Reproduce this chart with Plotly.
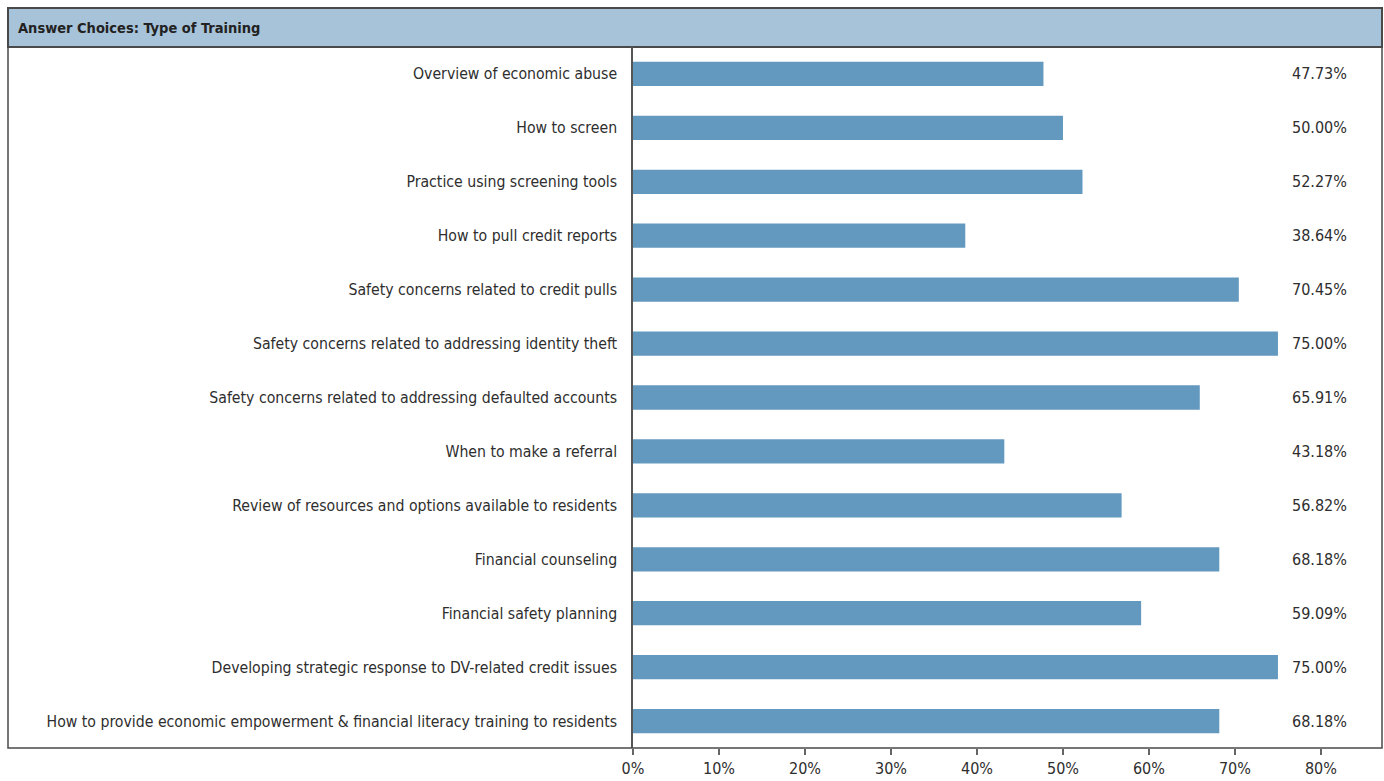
import plotly.graph_objects as go

categories = [
    "Overview of economic abuse",
    "How to screen",
    "Practice using screening tools",
    "How to pull credit reports",
    "Safety concerns related to credit pulls",
    "Safety concerns related to addressing identity theft",
    "Safety concerns related to addressing defaulted accounts",
    "When to make a referral",
    "Review of resources and options available to residents",
    "Financial counseling",
    "Financial safety planning",
    "Developing strategic response to DV-related credit issues",
    "How to provide economic empowerment & financial literacy training to residents",
]
values = [47.73, 50.00, 52.27, 38.64, 70.45, 75.00, 65.91, 43.18, 56.82, 68.18, 59.09, 75.00, 68.18]
tick_vals = [0, 10, 20, 30, 40, 50, 60, 70, 80]
tick_text = ["0%", "10%", "20%", "30%", "40%", "50%", "60%", "70%", "80%"]
header_title = "Answer Choices: Type of Training"

FONT = "Liberation Sans Narrow, DejaVu Sans Condensed, Arial Narrow, sans-serif"
TEXT = "#2e2e2e"
BAR = "#6399bf"
BORDER = "#4a4a4a"

W, H = 1384, 781
L, R, T, B = 633, 2, 47, 33
pw = W - L - R
ph = H - T - B

def px_x(p):
    return (p - L) / pw

def px_y(p):
    return (H - B - p) / ph

fig = go.Figure()
fig.add_trace(go.Bar(
    x=values, y=categories, orientation="h",
    marker=dict(color=BAR, line=dict(width=0)),
    width=0.45, hoverinfo="skip",
))

for c, v in zip(categories, values):
    fig.add_annotation(x=83.25, y=c, xref="x", yref="y", text=f"{v:.2f}%",
                       showarrow=False, xanchor="right", yanchor="middle",
                       font=dict(family=FONT, size=16, color=TEXT))

# header band
fig.add_shape(type="rect", xref="paper", yref="paper",
              x0=px_x(8), x1=px_x(1382), y0=px_y(47), y1=px_y(8),
              fillcolor="#a7c3d9", line=dict(color=BORDER, width=2), layer="below")
# outer box
fig.add_shape(type="rect", xref="paper", yref="paper",
              x0=px_x(8), x1=px_x(1382), y0=px_y(748), y1=px_y(8),
              fillcolor="rgba(0,0,0,0)", line=dict(color=BORDER, width=1.5), layer="above")
fig.add_annotation(xref="paper", yref="paper", x=px_x(16), y=px_y(28),
                   text=f"<b>{header_title}</b>", showarrow=False,
                   xanchor="left", yanchor="middle",
                   font=dict(family=FONT, size=14.5, color="#222222"))

fig.update_layout(
    width=W, height=H,
    margin=dict(l=L, r=R, t=T, b=B, pad=0, autoexpand=False),
    paper_bgcolor="white", plot_bgcolor="white",
    showlegend=False,
    font=dict(family=FONT, size=16, color=TEXT),
    xaxis=dict(range=[0, 87.1], tickvals=tick_vals, ticktext=tick_text,
               showgrid=False, zeroline=False, showline=False, automargin=False,
               ticks="outside", ticklen=6, tickcolor="#666666", tickwidth=1.5,
               tickfont=dict(family=FONT, size=16, color=TEXT)),
    yaxis=dict(autorange="reversed", showgrid=False, zeroline=False,
               showline=True, linecolor="#555555", linewidth=1.5, automargin=False,
               ticks="", ticklabelstandoff=11,
               tickfont=dict(family=FONT, size=15.7, color=TEXT)),
)

fig.write_html("out.html")
